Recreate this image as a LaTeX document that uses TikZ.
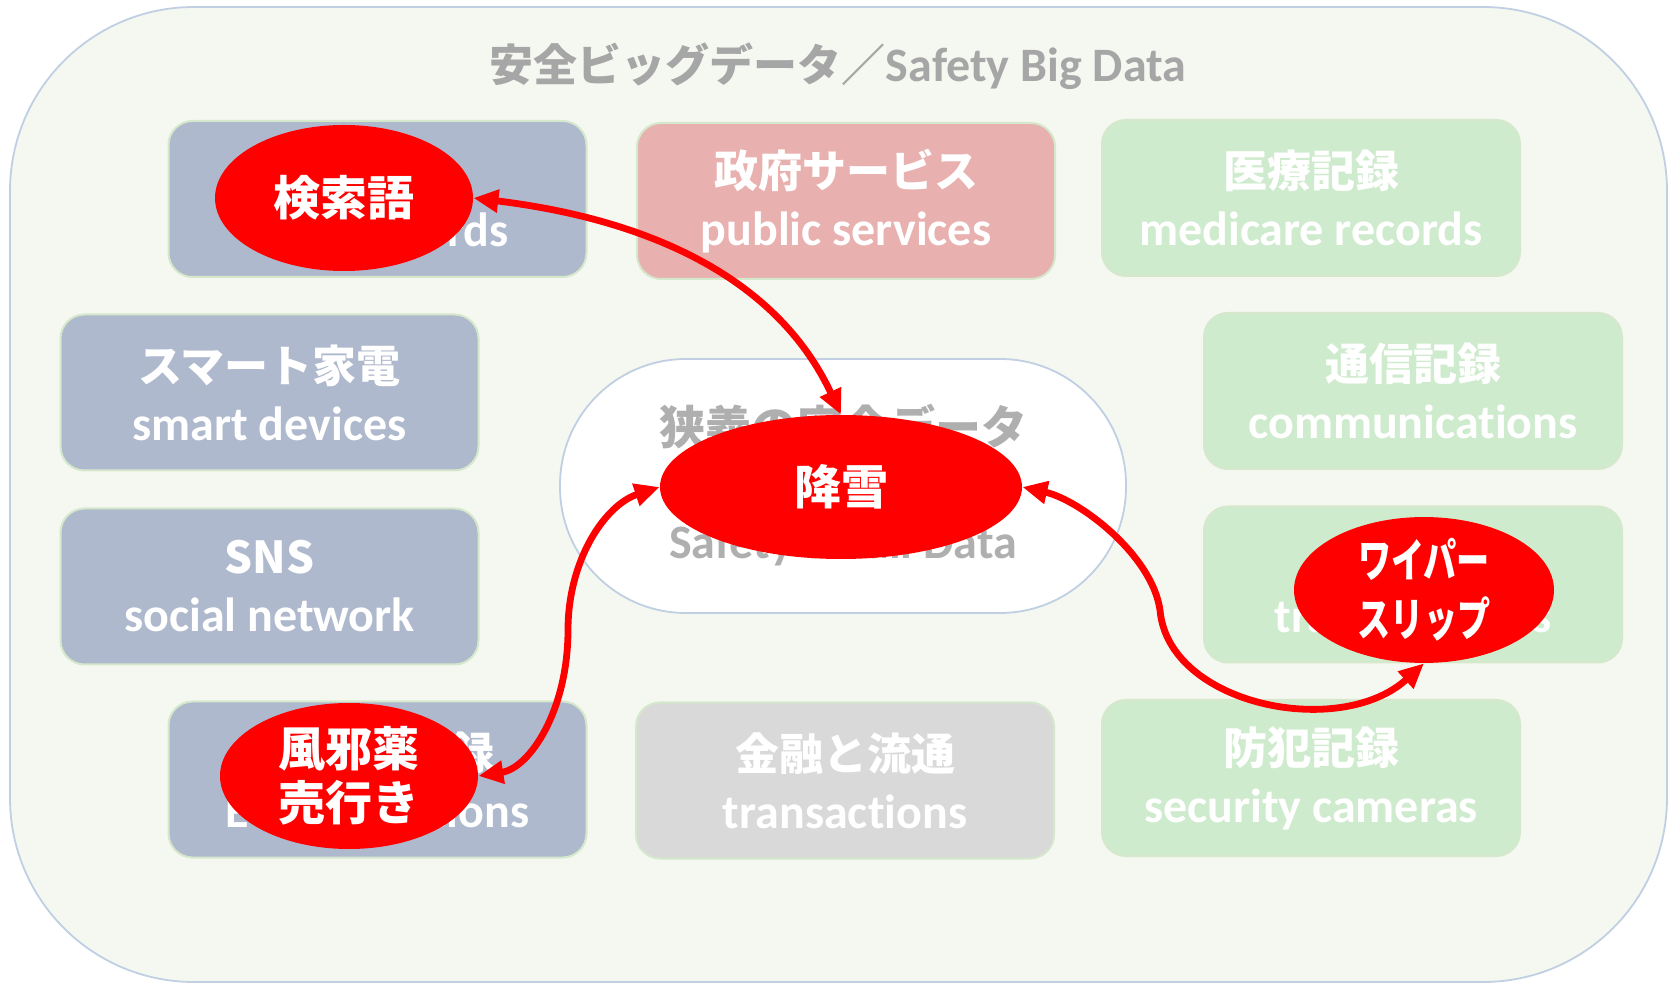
\documentclass[tikz,border=0pt]{standalone}
\usepackage{fontspec}
\setmainfont{Carlito}[Ligatures=NoCommon]
\newfontfamily\jpf{Noto Sans CJK JP}
\newfontfamily\jpnarrow{Noto Sans CJK JP}[FakeStretch=0.72]
\usetikzlibrary{shapes.geometric,arrows.meta}

\definecolor{outerfill}{HTML}{F5F8F1}
\definecolor{outerline}{HTML}{C0D0E2}
\definecolor{boxline}{HTML}{D5E8CC}
\definecolor{bluebox}{HTML}{AFB9CD}
\definecolor{pinkbox}{HTML}{E8B1B0}
\definecolor{greenbox}{HTML}{CFEBCD}
\definecolor{greybox}{HTML}{D9D9D9}
\definecolor{titlegray}{HTML}{A6A6A6}
\definecolor{coregray}{HTML}{AFAFAF}
\definecolor{hotred}{HTML}{FF0000}

\newcommand\jp[1]{{\jpf\fontsize{22pt}{29pt}\selectfont #1}}
\newcommand\twoline[2]{\jp{#1}\\#2}

\begin{document}
\begin{tikzpicture}[x=0.5pt,y=-0.5pt,
  >={Triangle[length=12.5pt,width=11pt]},
  databox/.style={rectangle, rounded corners=12pt, minimum width=209pt,
    minimum height=78pt, draw=boxline, line width=1pt, text=white,
    align=center, inner sep=0pt,
    font=\fontsize{24pt}{29pt}\selectfont\bfseries},
  redell/.style={ellipse, fill=hotred, inner sep=0pt, text=white,
    align=center, font=\fontsize{23.5pt}{27pt}\selectfont\bfseries\jpf},
  link/.style={draw=hotred, line width=3.4pt, <->}]

\useasboundingbox (0,0) rectangle (1677,983);

% outer frame of the big data domain
\draw[fill=outerfill, draw=outerline, line width=0.9pt, rounded corners=92pt]
  (10,7) rectangle (1667,982);

\node[text=titlegray, font=\fontsize{24pt}{29pt}\selectfont\bfseries]
  (title) at (838,66) {\jp{安全ビッグデータ／}Safety Big Data};

% data sources
\node[databox, fill=bluebox]  (search)  at (377.5,199) {\twoline{検索語}{search words}};
\node[databox, fill=pinkbox]  (public)  at (846,201)   {\twoline{政府サービス}{public services}};
\node[databox, fill=greenbox] (medical) at (1311,198)  {\twoline{医療記録}{medicare records}};
\node[databox, fill=bluebox]  (smart)   at (269.5,392.5) {\twoline{スマート家電}{smart devices}};
\node[databox, fill=greenbox] (comm)    at (1413,391)  {\twoline{通信記録}{communications}};
\node[databox, fill=bluebox]  (sns)     at (269.5,586.5) {\twoline{SNS}{social network}};
\node[databox, fill=greenbox] (traffic) at (1413,584.5) {\twoline{交通記録}{traffic records}};
\node[databox, fill=bluebox]  (ec)      at (377.5,779.5) {\twoline{EC購買記録}{EC transactions}};
\node[databox, fill=greybox]  (finance) at (845,780.5) {\twoline{金融と流通}{transactions}};
\node[databox, fill=greenbox] (camera)  at (1311,778)  {\twoline{防犯記録}{security cameras}};

% narrow safety data core
\node[rectangle, rounded corners=63pt, minimum width=283pt, minimum height=127pt,
  fill=white, draw=outerline, line width=0.9pt] (core) at (843,486) {};
\node[text=coregray, font=\fontsize{23pt}{29pt}\selectfont\bfseries\jpf]
  (corejp) at (843,427) {狭義の安全データ};
\node[text=coregray, font=\fontsize{24pt}{29pt}\selectfont\bfseries]
  (coreen) at (843,545) {Safety Small Data};

% observed phenomena
\node[redell, minimum width=129pt, minimum height=73pt] (E1) at (344,198) {検索語};
\node[redell, minimum width=181pt, minimum height=72pt] (E2) at (841,487) {降雪};
\node[redell, minimum width=129pt, minimum height=73pt] (E3) at (349,776) {風邪薬\\売行き};
\node[redell, minimum width=130pt, minimum height=72pt,
  font=\fontsize{23pt}{29.5pt}\selectfont\bfseries\jpnarrow] (E4) at (1424,590) {ワイパー\\スリップ};

% correlations with snowfall
\draw[link] (E1.east) .. controls (653,220) and (778,280) .. (E2.north);
\draw[link] (E2.west) .. controls (605,505) and (568,560) .. (568,630)
  .. controls (568,710) and (530,768) .. (E3.east);
\draw[link] (E2.east) .. controls (1080,500) and (1152,555) .. (1160,610)
  .. controls (1168,705) and (1340,740) .. (E4.south);

\end{tikzpicture}
\end{document}
